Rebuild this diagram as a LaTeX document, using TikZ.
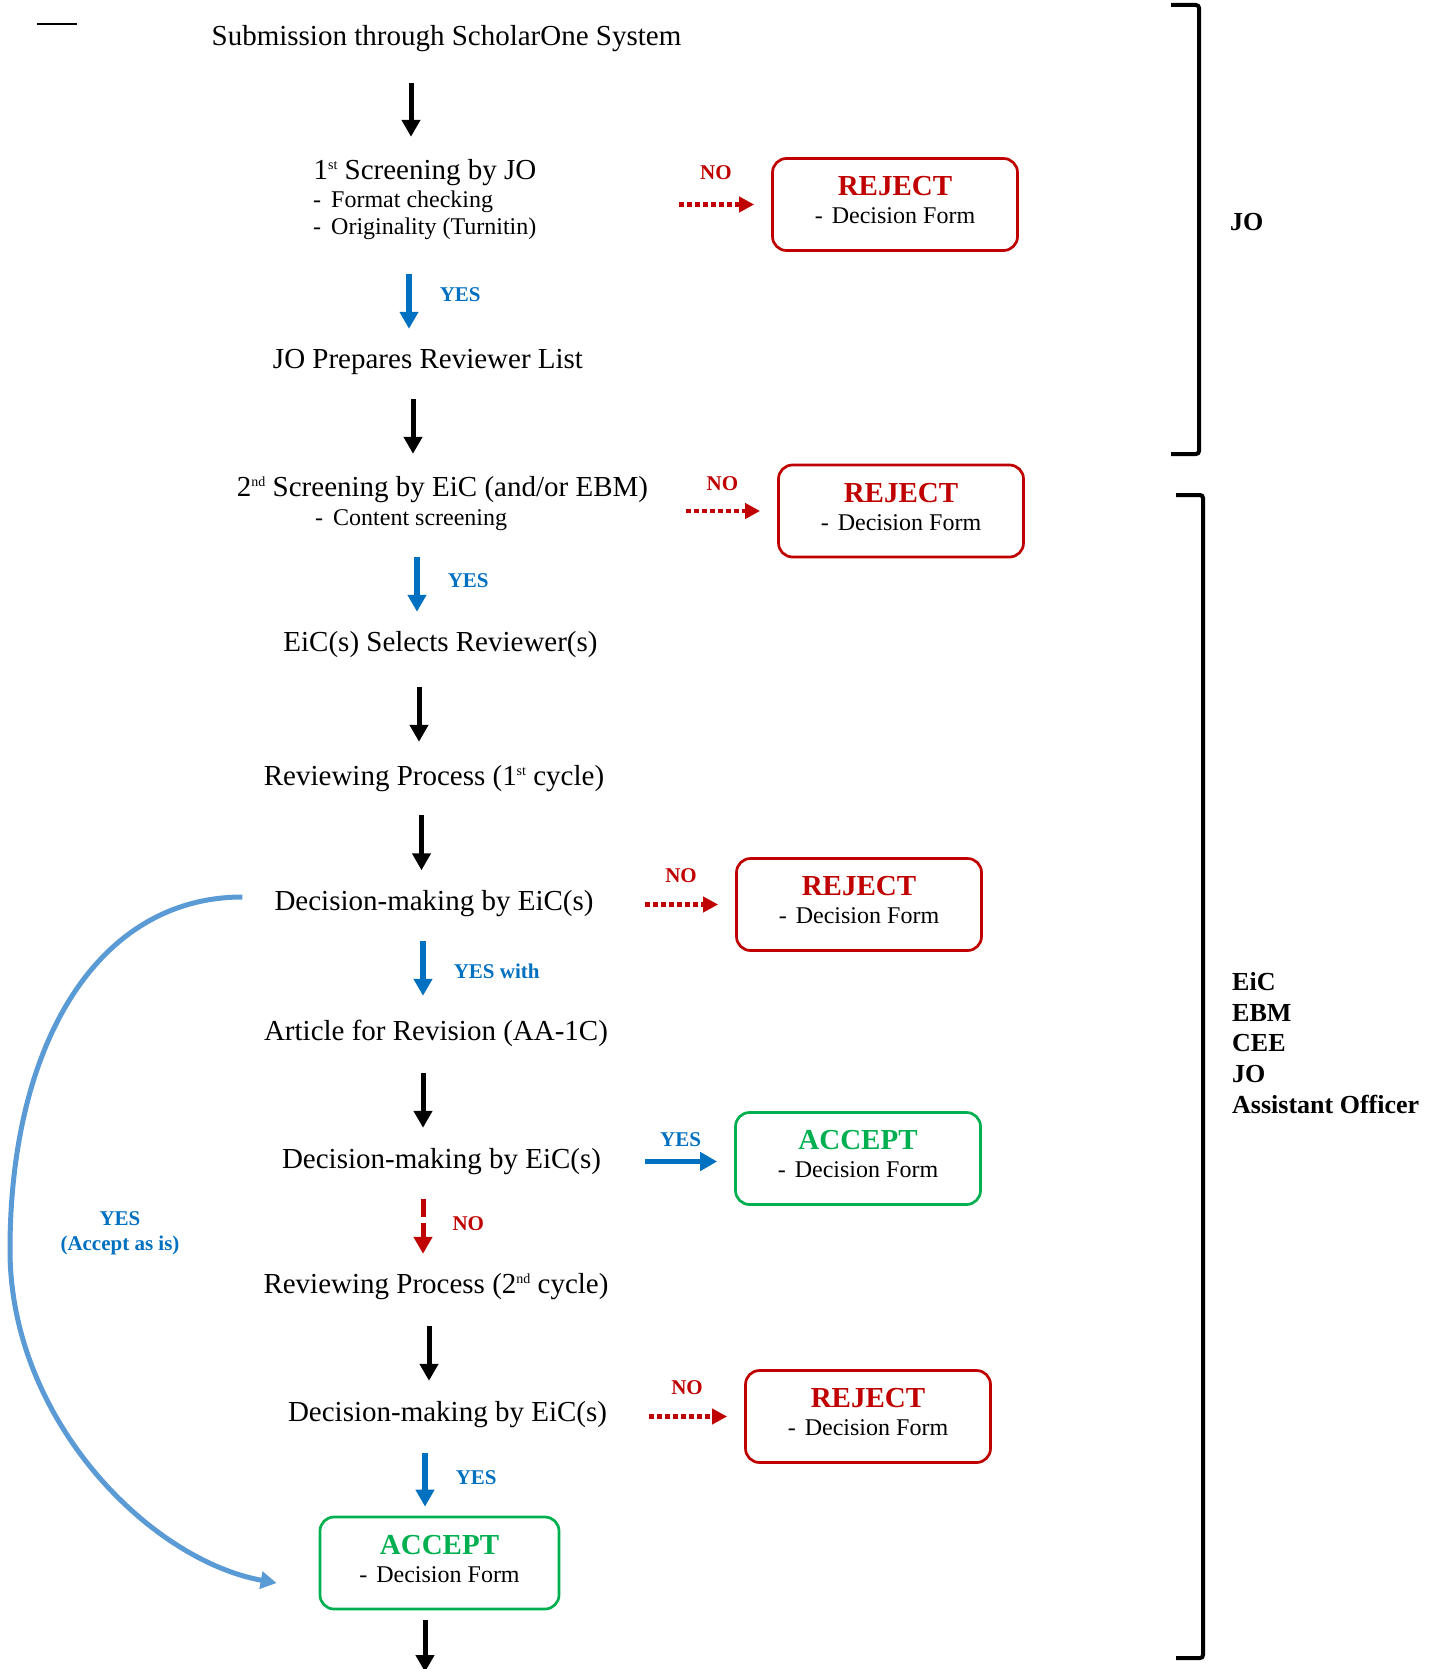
\documentclass[tikz,border=0pt]{standalone}
\usepackage{fontspec}
\setmainfont{Liberation Serif}
\usepackage{tikz}
\usetikzlibrary{arrows.meta,positioning}
\definecolor{jblue}{HTML}{0070C0}
\definecolor{jred}{HTML}{C00000}
\definecolor{jgreen}{HTML}{00B050}
\definecolor{jcurve}{HTML}{5B9BD5}
\newcommand{\ordsup}[1]{\raisebox{10pt}{\fontsize{14}{14}\selectfont #1}}

\begin{document}
\begin{tikzpicture}[x=1pt, y=-1pt,
    stage/.style={inner sep=0pt, font=\fontsize{29}{33}\selectfont, text height=20pt, text depth=7pt, anchor=base},
    item/.style={inner sep=0pt, font=\fontsize{24}{27}\selectfont, text height=16pt, text depth=6pt, anchor=base west},
    outcome/.style={rectangle, rounded corners=14pt, line width=2.7pt, minimum width=245pt, minimum height=92pt, align=center, inner sep=0pt, font=\fontsize{24}{28}\selectfont},
    reject/.style={outcome, draw=jred},
    accept/.style={outcome, draw=jgreen},
    role/.style={inner sep=0pt, font=\fontsize{26}{30.8}\selectfont\bfseries},
    lbl/.style={inner sep=0pt, font=\fontsize{21}{25}\selectfont\bfseries},
    arrow/.style={-{Triangle[length=17pt,width=18pt]}, line width=5pt},
    yesarrow/.style={arrow, color=jblue, line width=5.5pt},
    revarrow/.style={arrow, color=jred, dash pattern=on 18pt off 6pt},
    noarrow/.style={-{Triangle[length=15pt,width=15pt]}, color=jred, line width=4.5pt, dash pattern=on 5pt off 3pt, shorten >=17pt},
    sidearrow/.style={yesarrow, shorten >=17pt},
    curvearrow/.style={-{Triangle[length=16pt,width=17pt]}, line width=5pt, color=jcurve},
    bracket/.style={line width=4pt, rounded corners=3pt}
]
\path[use as bounding box, fill=white] (0,0) rectangle (1441,1669);

% Main steps
\node[stage] (submit) at (446.5,46) {Submission through ScholarOne System};
\node[stage] (scr1) at (425,180) {1\ordsup{st} Screening by JO};
\node[item] (fmt) at (313,208) {-\hspace{10pt}Format checking};
\node[item] (orig) at (313,235) {-\hspace{10pt}Originality (Turnitin)};
\node[stage] (jolist) at (428,368) {JO Prepares Reviewer List};
\node[stage] (scr2) at (442.5,496) {2\ordsup{nd} Screening by EiC (and/or EBM)};
\node[item] (content) at (315,525) {-\hspace{10pt}Content screening};
\node[stage] (select) at (440.5,651) {EiC(s) Selects Reviewer(s)};
\node[stage] (review1) at (434,785.5) {Reviewing Process (1\ordsup{st} cycle)};
\node[stage] (decide1) at (434,910) {Decision-making by EiC(s)};
\node[stage] (revise) at (436,1040) {Article for Revision (AA-1C)};
\node[stage] (decide2) at (441.5,1168) {Decision-making by EiC(s)};
\node[stage] (review2) at (436,1293) {Reviewing Process (2\ordsup{nd} cycle)};
\node[stage] (decide3) at (447.5,1421) {Decision-making by EiC(s)};

% Outcomes
\node[reject] (rej1) at (895,204.5) {\textcolor{jred}{\fontsize{29}{28}\selectfont\bfseries REJECT}\\-\hspace{9pt}Decision Form\strut};
\node[reject] (rej2) at (901,511) {\textcolor{jred}{\fontsize{29}{28}\selectfont\bfseries REJECT}\\-\hspace{9pt}Decision Form\strut};
\node[reject] (rej3) at (859,904.5) {\textcolor{jred}{\fontsize{29}{28}\selectfont\bfseries REJECT}\\-\hspace{9pt}Decision Form\strut};
\node[accept] (acc1) at (858,1158.5) {\textcolor{jgreen}{\fontsize{29}{28}\selectfont\bfseries ACCEPT}\\-\hspace{9pt}Decision Form\strut};
\node[reject] (rej4) at (868,1416.5) {\textcolor{jred}{\fontsize{29}{28}\selectfont\bfseries REJECT}\\-\hspace{9pt}Decision Form\strut};
\node[accept, minimum width=239pt] (acc2) at (439.5,1563) {\textcolor{jgreen}{\fontsize{29}{28}\selectfont\bfseries ACCEPT}\\-\hspace{9pt}Decision Form\strut};
\coordinate (finish) at (425,1672);

% Roles
\node[role, anchor=base west] (jorole) at (1230,231) {JO};
\node[role, anchor=north west, align=left] (eicrole) at (1232,972) {EiC\\EBM\\CEE\\JO\\Assistant Officer};
\draw[bracket] (1171,5) -- (1199,5) -- (1199,454) -- (1171,454);
\draw[bracket] (1176,495) -- (1203,495) -- (1203,1658) -- (1176,1658);
\draw[line width=1.3pt] (37,24) -- (77,24);

% Connections
\draw[arrow, shorten <=30pt, shorten >=23pt] (submit.south -| 411,0) -- (scr1.north -| 411,0);
\draw[yesarrow, shorten <=33pt, shorten >=19pt] (orig.south -| 409,0) -- node[lbl, right=28pt] {YES} (jolist.north -| 409,0);
\draw[arrow, shorten <=24pt, shorten >=22pt] (jolist.south -| 413,0) -- (scr2.north -| 413,0);
\draw[yesarrow, shorten <=26pt, shorten >=19pt] (content.south -| 417,0) -- node[lbl, right=28pt] {YES} (select.north -| 417,0);
\draw[arrow, shorten <=28.5pt, shorten >=23.5pt] (select.south -| 419,0) -- (review1.north -| 419,0);
\draw[arrow, shorten <=22.5pt, shorten >=19.5pt] (review1.south -| 421.5,0) -- (decide1.north -| 421.5,0);
\draw[yesarrow, shorten <=24pt, shorten >=24pt] (decide1.south -| 423,0) -- node[lbl, right=28pt, yshift=-3pt] {YES with} (revise.north -| 423,0);
\draw[arrow, shorten <=26pt, shorten >=20pt] (revise.south -| 423,0) -- (decide2.north -| 423,0);
\draw[revarrow, shorten <=24pt, shorten >=19pt] (decide2.south -| 423,0) -- node[lbl, right=27pt] {NO} (review2.north -| 423,0);
\draw[arrow, shorten <=26pt, shorten >=20pt] (review2.south -| 429,0) -- (decide3.north -| 429,0);
\draw[yesarrow, shorten <=25pt, shorten >=9pt] (decide3.south -| 425,0) -- node[lbl, right=28pt, yshift=-6pt] {YES} (acc2.north -| 425,0);
\draw[arrow, shorten <=10pt] (acc2.south -| 425,0) -- (finish);

\draw[noarrow] (rej1.west -| 679,0) -- node[lbl, pos=.4, above=23pt] {NO} (rej1.west);
\draw[noarrow] (rej2.west -| 686,0) -- node[lbl, pos=.4, above=18pt] {NO} (rej2.west);
\draw[noarrow] (rej3.west -| 645,0) -- node[lbl, pos=.4, above=20pt] {NO} (rej3.west);
\draw[sidearrow] (decide2 -| 645,0) -- node[lbl, pos=.4, above=12pt] {YES} (decide2 -| acc1.west);
\draw[noarrow] (rej4.west -| 649,0) -- node[lbl, pos=.4, above=20pt] {NO} (rej4.west);

% Accept as is loop
\draw[curvearrow] ([xshift=-32pt,yshift=6.5pt]decide1.west) .. controls (100,897) and (10,1040) .. (10,1250)
    .. controls (10,1420) and (150,1560) .. ([xshift=-42pt,yshift=-20pt]acc2.west);
\node[lbl, text=jblue, align=center] (asis) at (120,1233) {YES\\(Accept as is)};

\end{tikzpicture}
\end{document}
